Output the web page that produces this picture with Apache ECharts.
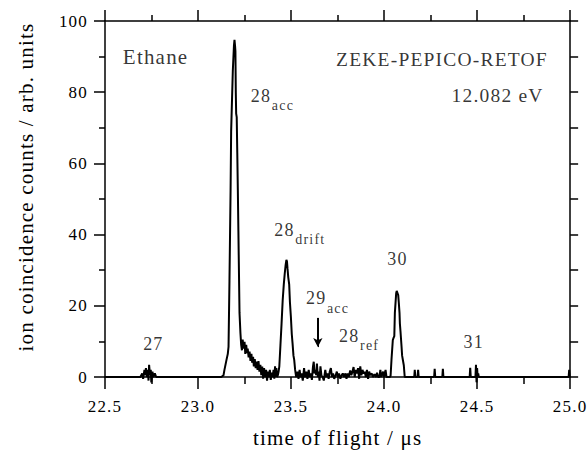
<!DOCTYPE html>
<html><head><meta charset="utf-8">
<script src="https://cdn.jsdelivr.net/npm/echarts@6/dist/echarts.min.js"></script>
<style>
html,body{margin:0;padding:0;background:#fff;}
#chart{width:588px;height:458px;}
#chart text{letter-spacing:1.2px;}
</style></head><body><div id="chart"></div>
<script>
const FONT = "'Liberation Serif', 'Times New Roman', serif";

// tick labels
const xTickLabels = ['22.5','23.0','23.5','24.0','24.5','25.0'];
const yTickLabels = ['0','20','40','60','80','100'];

// spectrum segments: [time of flight (µs), counts]
const segStart = [[22.50,0],[22.690,0]];
const seg27 = [[22.700,1],[22.705,-0.5],[22.712,2],[22.716,0.5],[22.720,2.5],[22.725,0],[22.730,2],[22.734,-1],[22.737,3.4],[22.742,0.5],[22.746,2],[22.749,-1.5],[22.755,1.5],[22.760,0],[22.768,1],[22.775,0],[22.785,0]];
const seg28acc = [[23.125,0],[23.137,0.5],[23.142,2],[23.153,4.8],[23.160,6.5],[23.164,8.5],[23.169,27],[23.175,52.5],[23.178,69],[23.187,86],[23.193,93],[23.196,94.7],[23.199,93],[23.201,91.5],[23.203,80],[23.205,74],[23.208,73],[23.211,63],[23.214,52.5],[23.217,41],[23.223,18],[23.228,12.3]];
const seg28accTail = [[23.232,9],[23.236,7.5],[23.240,10.5],[23.245,8],[23.250,9.9],[23.254,6.5],[23.259,9],[23.263,6.7],[23.267,8],[23.272,5.5],[23.277,7.1],[23.282,4.5],[23.287,6.5],[23.291,4],[23.296,5.7],[23.300,3],[23.305,5],[23.310,2.5],[23.315,4.3],[23.320,2],[23.325,4.5],[23.330,1.5],[23.335,3.4],[23.340,0.5],[23.345,2.9],[23.350,-0.5],[23.355,2.5],[23.360,0],[23.366,2],[23.371,-1],[23.376,1.5],[23.381,0],[23.386,2],[23.391,-0.8],[23.396,1.2],[23.401,0],[23.406,2],[23.410,-0.5],[23.414,3],[23.418,0],[23.421,2.5]];
const seg28drift = [[23.425,0],[23.429,0.5],[23.433,1.5],[23.437,3],[23.443,9],[23.449,15],[23.455,21.5],[23.461,26],[23.466,29],[23.471,31.5],[23.475,32.9],[23.478,32.5],[23.481,30.5],[23.485,28],[23.490,26],[23.494,21],[23.499,17],[23.504,12],[23.508,9.5],[23.513,6],[23.517,4.8],[23.522,2],[23.526,0.5]];
const segNoise = [[23.528,0],[23.535,1.5],[23.540,-0.5],[23.546,2],[23.551,0],[23.557,1],[23.563,-1],[23.570,2.5],[23.575,0],[23.582,1.5],[23.588,-0.5],[23.595,2],[23.600,0],[23.606,1],[23.612,-0.8],[23.618,3],[23.622,4.3],[23.626,1],[23.631,2],[23.635,0.5],[23.639,3.8],[23.644,0],[23.648,1.5],[23.653,-1],[23.658,3],[23.663,0.5],[23.670,0],[23.676,-1],[23.684,2],[23.690,0],[23.696,1],[23.702,-0.5],[23.708,1.5],[23.714,2.5],[23.720,0],[23.726,1],[23.732,-0.5],[23.740,0.5],[23.746,1.5],[23.752,0],[23.758,1],[23.765,-0.5],[23.772,0.5],[23.778,1],[23.785,0],[23.792,1],[23.798,-0.5],[23.804,1],[23.810,0],[23.818,1.8],[23.824,0.5],[23.830,1.5],[23.836,2.8],[23.842,0],[23.848,2],[23.854,1],[23.860,2.5],[23.866,-0.5],[23.872,3],[23.878,0.5],[23.884,2],[23.890,1],[23.896,1.5],[23.902,0],[23.908,2],[23.914,-0.5],[23.920,1.5],[23.926,0.5],[23.934,1],[23.940,0],[23.948,0.8],[23.956,0],[23.962,1.2],[23.968,0],[23.975,0],[23.980,2],[23.985,0],[23.995,1.5],[24.000,0],[24.008,2],[24.013,0],[24.030,0]];
const seg30 = [[24.035,0.3],[24.040,5],[24.047,10.4],[24.051,11],[24.055,11.5],[24.058,18],[24.065,23.5],[24.068,24.2],[24.072,23.6],[24.076,23],[24.079,21],[24.083,18],[24.085,15],[24.088,13],[24.094,8.5],[24.097,6],[24.102,4.5],[24.106,3.3],[24.111,0]];
const segHigh = [[24.162,0],[24.165,2],[24.168,0],[24.180,0],[24.183,2],[24.186,0],[24.269,0],[24.272,2.3],[24.275,0],[24.313,0],[24.316,2.3],[24.319,0],[24.460,0],[24.463,2.6],[24.466,0],[24.491,0],[24.494,3.4],[24.497,-1.5],[24.500,2.5],[24.503,0],[24.506,1],[24.509,0],[24.992,0],[24.995,2],[24.998,0],[25.0,0]];

const spectrum = [].concat(segStart, seg27, seg28acc, seg28accTail, seg28drift, segNoise, seg30, segHigh);

// annotation texts (anchored at their left edge, in data units)
const annotationTexts = ['Ethane','ZEKE-PEPICO-RETOF','12.082 eV','{n|28}{s|acc}','{n|28}{s|drift}','{n|29}{s|acc}','{n|28}{s|ref}','30','31','27'];
const annotationT = [22.596, 23.742, 24.363, 23.284, 23.410, 23.580, 23.758, 24.017, 24.427, 22.705];
const annotationV = [89.9, 89.3, 79.2, 77.9, 40.2, 21.0, 10.5, 33.1, 9.9, 9.3];
const annotationSize = [21, 19.5, 19.5, 18, 18, 18, 18, 18, 18, 18];
// arrow pointing at the 29acc position
const arrowT = 23.644, arrowTop = 16.6, arrowBottom = 8.4;

const chart = echarts.init(document.getElementById('chart'), null, {renderer:'svg'});
const black = '#000';
const tickStyle = {color: black, width: 1.5};
function xAxisBase(pos, showLabel, tickLen, minorLen) {
  return {
    type:'value', position: pos, min:22.5, max:25.0, interval:0.5,
    axisLine:{show:true, onZero:false, lineStyle:{color:black, width:1.5}},
    axisTick:{show:true, inside:false, length:tickLen, lineStyle:tickStyle},
    minorTick:{show:true, splitNumber:2, length:minorLen, lineStyle:tickStyle},
    splitLine:{show:false}, minorSplitLine:{show:false},
    axisLabel:{show:showLabel, margin:21, fontSize:17, color:black, fontFamily:FONT,
      formatter: v => xTickLabels[Math.round((v-22.5)/0.5)]}
  };
}
function yAxisBase(pos, showLabel, tickLen, minorLen) {
  return {
    type:'value', position: pos, min:0, max:100, interval:20,
    axisLine:{show:true, onZero:false, lineStyle:{color:black, width:1.5}},
    axisTick:{show:true, inside:false, length:tickLen, lineStyle:tickStyle},
    minorTick:{show:true, splitNumber:2, length:minorLen, lineStyle:tickStyle},
    splitLine:{show:false}, minorSplitLine:{show:false},
    axisLabel:{show:showLabel, margin:17, fontSize:17, color:black, fontFamily:FONT,
      formatter: v => yTickLabels[Math.round(v/20)]}
  };
}
const xBottom = Object.assign(xAxisBase('bottom', true, 12, 7), {
  name:'time of flight / μs', nameLocation:'middle', nameGap:50,
  nameTextStyle:{fontSize:21, color:black, fontFamily:FONT}
});
const xTop = xAxisBase('top', false, 11, 6);
const yLeft = Object.assign(yAxisBase('left', true, 11, 6), {
  name:'ion coincidence counts / arb. units', nameLocation:'middle', nameGap:69,
  nameTextStyle:{fontSize:21, color:black, fontFamily:FONT, padding:[0,0,0,24]}
});
const yRight = yAxisBase('right', false, 8, 8);

chart.setOption({
  animation:false,
  backgroundColor:'#fff',
  grid:{left:105, right:16, top:21, bottom:81},
  xAxis:[xBottom, xTop],
  yAxis:[yLeft, yRight],
  series:[
    {
      type:'line', xAxisIndex:0, yAxisIndex:0, data:spectrum,
      showSymbol:false, clip:false, silent:true,
      lineStyle:{color:black, width:2},
      markLine:{
        silent:true, animation:false, symbol:['none','none'],
        label:{show:false},
        lineStyle:{color:black, width:1, type:'solid'},
        data:[
          [{coord:[arrowT-0.0020, arrowTop]},{coord:[arrowT-0.0020, arrowBottom+1.5]}],
          [{coord:[arrowT+0.0020, arrowTop]},{coord:[arrowT+0.0020, arrowBottom+1.5]}],
          [{coord:[arrowT, arrowBottom+2.5]},{coord:[arrowT, arrowBottom], symbol:'arrow', symbolSize:[7,9]}]
        ]
      }
    },
    {
      type:'scatter', xAxisIndex:0, yAxisIndex:0, symbolSize:0, silent:true, clip:false,
      label:{show:true, position:'right', distance:0, color:black, fontFamily:FONT,
        rich:{
          n:{fontSize:18, verticalAlign:'top', color:black, fontFamily:FONT},
          s:{fontSize:14, lineHeight:26, verticalAlign:'bottom', padding:[0,0,0,3], color:black, fontFamily:FONT}
        }},
      data: annotationTexts.map((txt, i) => ({
        value:[annotationT[i], annotationV[i]],
        label:{formatter: txt, fontSize: annotationSize[i]}
      }))
    }
  ]
});
</script></body></html>
